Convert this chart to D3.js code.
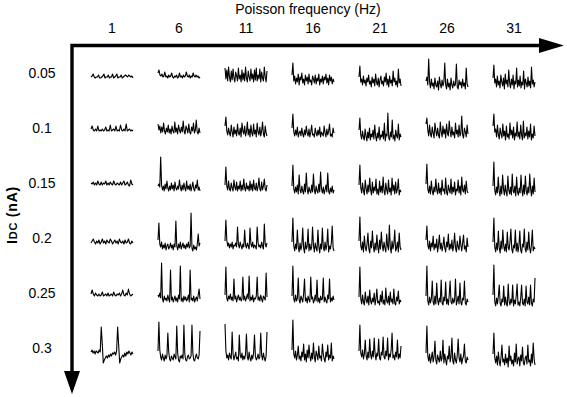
<!DOCTYPE html>
<html>
<head>
<meta charset="utf-8">
<script src="https://cdn.jsdelivr.net/npm/d3@7"></script>
<style>
  body { margin: 0; background: #fff; }
  svg { display: block; font-family: "Liberation Sans", Arial, Helvetica, sans-serif; }
</style>
</head>
<body>
<svg width="567" height="397"></svg>
<script>
const frequencies = [1, 6, 11, 16, 21, 26, 31];
const currents = ["0.05", "0.1", "0.15", "0.2", "0.25", "0.3"];

// voltage samples (px-ish units, up = depolarised),
// one array per DC current, one trace per Poisson frequency
const trace005 = [
  [-4,-3,-1,-4,-5,-4,-4,-2,-5,-5,-4,-3,-1,-5,-4,-4,-2,-5,-4,-4,-1,-5,-4,-3,-1,-5,-4,-4,-2,-5,-4,-3,-2,-3,-4,-2,-3,-4,-3,-5],
  [0,3,-2,-3,-1,-4,-3,1,-4,-3,-5,-2,-4,-3,0,-4,-5,-3,-4,-2,-5,-4,0,-4,-3,-5,-2,-4,-3,1,-3,-4,-2,-5,-3,-4,0,-3,-4,-2,-4,-3,-5,-4],
  [5,-6,3,-8,6,-4,-9,2,-7,4,-5,-9,1,-3,-8,5,-6,-2,-9,3,-7,0,-8,6,-5,-9,2,-4,-8,4,-6,-1,-9,3,-7,5,-8,-2,-6,4,-9,1,-5,-8,6,-4,-9,2],
  [-2,10,-8,-3,-11,-5,-9,-1,-12,-4,-7,0,-10,-6,-12,-2,-8,-4,-11,-1,-9,-7,-12,-3,-6,-10,-2,-11,-5,-8,-1,-12,-6,-9,-3,-11,-4,-7,-1,-10,-5,-12,-2,-8,-4,-11,-6,-9],
  [-4,7,-9,-6,-12,-3,-10,-7,-13,-5,-9,-2,-11,-8,-14,-4,-10,-6,-13,-1,-9,-12,-5,-14,-7,-3,-11,-8,-13,-4,-9,0,-12,-6,-14,-3,-10,-7,-13,2,-9,-5,-12,-8,-14,4,-10,-6,-13],
  [-8,-4,-12,14,-9,-15,-6,-13,-10,-16,-5,-12,-14,-8,-17,-4,-11,-15,-7,-13,-9,10,-12,-16,-6,-14,-10,-17,-5,-12,-15,-8,-13,-11,9,-14,-16,-7,-12,-9,-15,-6,-13,-10,-16,5,-11,-14],
  [-5,8,-10,-6,-14,-3,-12,-8,-15,-2,-9,-13,-5,-16,-1,-11,-7,-14,3,-10,-15,-6,-12,-2,-16,-8,-11,5,-14,-7,-13,-3,-15,-9,-12,2,-16,-6,-10,-14,-4,-13,-8,-15,6,-11,-7,-14,-9]
];
const trace010 = [
  [-1,2,-2,-3,-1,-3,2,-3,-2,-3,-1,-3,-2,1,-3,-2,-3,3,-3,-2,-1,-3,2,-3,-2,-3,3,-2,-3,-1,-3,4,-3,-2,-1,-3,-2,-3],
  [4,-2,2,-5,1,-4,5,-3,-6,0,-4,3,-5,-1,-6,2,-3,-5,6,-4,0,-6,3,-2,-5,1,-4,7,-3,-6,2,-1,-5,4,-4,-6,1,-3,5,-5,-2,8,-4,-6,0,-5],
  [2,11,-3,-7,0,-5,-8,3,-4,-9,1,-6,-2,-8,4,-5,-7,0,-9,5,-3,-6,2,-8,-4,6,-7,-1,-9,3,-5,-8,4,-6,-2,-9,5,-4,-7,1,-8,-3,6,-6,-9,2,-5,-8],
  [0,14,-4,-8,-2,-7,1,-9,-5,-3,-8,0,-6,-9,-2,-7,2,-5,-8,-1,-9,-4,3,-7,-6,-9,0,-5,-8,-2,-7,1,-9,-4,-6,-8,2,-5,-9,-1,-7,-3,4,-8,-6,-9,0,-5],
  [-2,10,-7,-11,-3,-9,-12,-1,-8,-13,-4,-10,0,-12,-6,-9,-2,-11,3,-8,-13,-5,-10,1,-12,-7,-9,-3,-11,5,-13,-6,-8,15,-10,-12,-4,-9,8,-11,-7,-13,-2,-8,-10,4,-12,-6,-9],
  [4,10,-2,-8,3,-6,-9,1,-5,-10,5,-3,-8,0,-7,-10,6,-4,-9,2,-6,-1,-10,4,-5,-8,7,-3,-9,1,-7,-4,-10,5,-6,-2,-9,3,-8,-5,12,-7,-10,0,-4,-9,3,-6],
  [2,14,-4,-1,-9,3,-7,-11,0,-6,-10,4,-8,-3,-12,2,-9,-6,-11,5,-7,-2,-10,1,-12,-5,-8,6,-9,-4,-11,3,-7,-12,7,-10,-5,-8,1,-11,-3,-9,4,-12,-6,-10,2,-8]
];
const trace015 = [
  [0,-1,1,-2,0,-2,2,-1,-2,1,-2,0,-1,2,-2,0,-2,1,-1,-2,2,-1,-2,0,-1,-2,1,-2,0,2,-2,-1,1,-2,-3,3,-1,-2],
  [-3,-1,-4,26,-2,-7,-3,-8,-1,-6,2,-5,-8,-3,-7,0,-6,-2,-8,1,-5,-7,-3,-6,3,-4,-8,-2,-7,0,-5,-8,2,-6,-3,-7,-1,-8,-4,1,-6,-8,-2,-5,3,-7,-4,-8],
  [-2,16,-3,-7,2,-6,-8,0,-5,-8,3,-4,-7,1,-8,-3,-6,2,-8,-2,-7,4,-5,-8,0,-6,-3,-8,2,-7,-1,-8,3,-5,-7,0,-8,-4,5,-6,-8,1,-7,-3,4,-6,-8,-2],
  [-3,18,-6,-10,-4,-9,-2,-11,8,-7,-10,-3,-8,-11,-1,-9,10,-6,-11,-4,-8,-10,-2,-9,9,-7,-11,-3,-8,-10,-1,-9,11,-6,-10,-4,-11,-7,-2,-9,10,-8,-11,-5,-9,-3,-10,-7],
  [-2,18,-5,-10,0,-8,-12,3,-6,-11,-2,-9,5,-7,-12,1,-10,-4,-8,4,-11,-6,-12,2,-9,-3,-10,6,-8,-12,0,-7,-11,3,-9,-5,-12,5,-8,-2,-11,1,-10,-6,4,-12,-7,-9],
  [-1,19,-6,-10,-3,-11,2,-8,-12,-4,-9,4,-7,-11,0,-10,-5,-12,3,-8,-6,-11,5,-9,-12,-2,-7,-10,4,-11,-4,-9,1,-12,-6,-8,3,-10,-3,-12,6,-7,-9,-2,-11,2,-8,-10],
  [-3,21,-7,-12,-4,-10,6,-8,-13,-3,-11,8,-6,-12,-2,-9,-13,7,-7,-11,-4,-12,9,-8,-10,-3,-13,6,-9,-12,-5,-10,8,-7,-13,-2,-11,7,-8,-12,-4,-10,9,-6,-13,-3,-11,5,-9]
];
const trace020 = [
  [-5,-3,-1,-4,-6,-3,-5,-2,-6,-4,-1,-5,-3,-6,-2,-4,-5,-1,-3,-6,-4,-2,-5,-3,-6,-1,-4,-5,-3,-6,-2,-5,-4,-1,-5,-6,-3,-5],
  [-2,15,-6,-9,-4,-11,-7,-10,-5,-12,-8,-6,-11,-9,-5,-10,-7,-12,-6,-9,17,-8,-12,-6,-10,-4,-11,-8,-5,-10,-7,-11,-6,-9,-4,-10,-8,25,-10,-13,-7,-11,-9,-12,-6,4,-8,-5],
  [-3,18,-2,-8,-5,-10,-6,-9,-4,-11,-7,-8,-5,-9,11,-6,-10,-4,-8,-11,-6,-9,8,-7,-10,-5,-8,-11,10,-6,-9,-4,-10,-7,-8,-11,11,-5,-9,-7,-10,-4,-8,-11,14,-6,-9,-5],
  [-4,20,-8,-13,-6,-11,8,-9,-14,-5,-12,-7,10,-10,-15,-4,-11,-8,9,-13,-6,-12,-9,11,-7,-14,-5,-10,-13,8,-8,-15,-6,-11,10,-9,-13,-4,-12,-7,9,-14,-8,-11,-5,12,-10,-13],
  [-3,21,-8,-12,-4,-14,2,-9,-13,-6,5,-11,-15,-3,-10,7,-8,-14,-5,-12,3,-9,-15,-2,-11,6,-7,-13,-4,-10,-14,4,-8,-12,13,-9,-15,-3,-11,-6,8,-13,-10,-4,-14,5,-9,-12],
  [-2,12,-7,-11,-3,-13,-5,-9,2,-12,-6,-10,-1,-14,-7,3,-11,-5,-13,-8,1,-10,-14,-4,-9,4,-12,-6,-11,-2,-13,-8,5,-10,-14,-3,-9,-12,2,-7,-13,-5,3,-11,-8,-14,0,-9],
  [-4,20,-9,-14,-5,-12,7,-10,-15,-3,-11,8,-8,-13,-6,-14,6,-9,-12,-4,9,-11,-15,-7,-10,8,-13,-5,-14,-8,7,-12,-15,-6,-9,9,-11,-14,-4,-12,6,-10,-15,-7,8,-13,-9,-11]
];
const trace025 = [
  [-1,3,-1,-3,0,-2,-3,-1,-3,-2,1,-3,-2,-1,-3,0,-3,-2,-1,-3,1,-2,-3,-1,-2,0,-3,-1,3,-2,-3,0,-2,4,-1,-3,-2,-1],
  [-2,-4,0,-5,30,-6,-9,-3,-7,-5,-8,-2,-6,-9,23,-7,-4,-9,-6,-3,-8,-5,-9,-2,-6,27,-8,-5,-9,-3,-7,-4,-8,-6,-2,-9,23,-7,-5,-8,-3,-9,-6,-4,-8,-2,4,-6],
  [-2,26,-5,-8,-3,-6,-1,-7,-4,-8,14,-6,-3,-9,-5,-2,-7,-4,-8,-6,16,-7,-3,-8,-5,-1,-6,17,-8,-4,-7,-2,-9,-5,-6,-3,16,-7,-4,-8,-2,-6,-9,-3,-5,-7,20,-4],
  [-3,27,-6,-9,-2,-8,-5,15,-7,-10,-3,-6,-9,-1,14,-8,-5,-10,-3,-7,-9,16,-6,-4,-10,-7,-2,-8,13,-9,-5,-10,-3,-7,-6,15,-9,-4,-8,-10,-2,-6,14,-9,-5,-8,-3,-7],
  [-4,26,-6,-11,-2,-9,-12,1,-7,-10,-3,-12,3,-8,-11,-5,-9,0,-12,-6,4,-10,-8,-12,-2,-9,2,-11,-7,-12,5,-8,-10,-3,-12,1,-9,-6,-11,4,-10,-12,-4,-8,2,-11,-7,-9],
  [-3,27,-8,-12,-4,-10,-6,12,-9,-12,-3,-11,10,-7,-12,-5,-9,13,-10,-12,-4,-8,11,-11,-6,-12,-2,12,-9,-11,-5,-10,-7,14,-12,-8,-3,-11,10,-9,-12,-5,-7,12,-10,-12,-6,-9],
  [-2,28,-9,-13,-5,-11,-3,8,-10,-13,-6,-9,7,-12,-4,-11,-13,9,-8,-12,-6,-10,8,-13,-7,-11,-3,9,-12,-9,-13,-5,8,-10,-12,-6,-13,7,-9,-11,-4,-12,8,-10,-13,-6,-9,15]
];
const trace030 = [
  [-4,-2,-5,-3,-6,-3,-4,-5,-2,-4,21,4,-15,-12,-10,-8,-10,-7,-9,-6,-8,-5,-6,-4,-7,-3,21,3,-15,-11,-9,-7,-9,-5,-8,-4,-6,-3,-5,-7,-4,-6],
  [-3,26,-2,-9,-12,-6,-10,-13,-7,-11,-8,15,-4,-11,-13,-8,-10,-12,-6,-9,-11,22,-5,-12,-14,-8,-10,-7,-11,23,-6,-12,-13,-9,-7,-11,-10,-8,23,-5,-12,-13,-9,-6,-10,-11,-7,17],
  [24,-3,-10,-7,-12,-5,-9,-11,16,-6,-12,-8,-4,-11,-9,-13,13,-7,-10,-5,-12,-8,-11,-6,14,-9,-12,-4,-10,-13,-7,-11,-5,13,-8,-12,-10,-6,-11,-9,15,-7,-12,-5,-10,-13,-8,16],
  [-2,28,-6,-10,-3,-12,-7,2,-11,-8,-13,-4,-9,4,-12,-6,-14,-2,-10,3,-8,-13,-5,-11,5,-9,-14,-3,-7,-12,2,-10,-8,-13,4,-6,-11,-14,-4,-9,3,-12,-7,-10,5,-13,-8,-11],
  [-3,23,-5,-9,-2,-11,-6,8,-8,-12,-4,-10,9,-7,-11,-3,-9,10,-6,-12,-5,-8,9,-10,-12,-4,-7,11,-9,-11,-3,-8,10,-12,-6,-9,-2,15,-10,-7,-12,-4,-9,8,-11,-6,-10,2],
  [-5,22,-8,-13,-6,-15,-10,-4,-14,-9,7,-12,-16,-7,-11,-14,-3,-13,-10,8,-15,-6,-12,-17,-8,-11,2,-14,-9,10,-13,-16,-5,-12,-15,-7,9,-10,-14,-6,-16,-11,-8,4,-13,-15,-9,-12],
  [-6,15,-10,-15,-8,-17,-4,-13,-18,-9,3,-14,-11,-17,-6,-15,-10,-19,2,-13,-8,-16,-12,-18,-5,-14,4,-16,-11,-9,-18,-7,-13,1,-15,-17,-10,-8,-16,3,-14,-12,-18,-6,-15,5,-11,-17]
];
const traces = [trace005, trace010, trace015, trace020, trace025, trace030];

const svg = d3.select("svg");

const x = d3.scalePoint().domain(frequencies).range([112, 514]);
const y = d3.scalePoint().domain(currents).range([73, 348]);
const volt = d3.scaleLinear().domain([-20, 30]).range([20, -30]);
const traceWidth = 42;

const axisX = 72, axisY = 45.5;

// axis arrows
svg.append("path")
    .attr("d", `M${axisX},374V${axisY}H542`)
    .attr("fill", "none")
    .attr("stroke", "#000")
    .attr("stroke-width", 3.4)
    .attr("stroke-linejoin", "miter")
    .attr("stroke-linecap", "butt");
svg.append("path")
    .attr("d", `M539,${axisY - 7.5}L564,${axisY}L539,${axisY + 7.5}Z`)
    .attr("fill", "#000");
svg.append("path")
    .attr("d", `M${axisX - 8},371L${axisX},394L${axisX + 8},371Z`)
    .attr("fill", "#000");

svg.append("text")
    .attr("x", 308)
    .attr("y", 14)
    .attr("text-anchor", "middle")
    .style("font-size", "14px")
    .text("Poisson frequency (Hz)");

svg.append("g")
    .attr("text-anchor", "middle")
    .style("font-size", "14px")
  .selectAll("text")
  .data(frequencies)
  .enter().append("text")
    .attr("x", d => x(d))
    .attr("y", 33)
    .text(d => d);

svg.append("g")
    .attr("text-anchor", "middle")
    .style("font-size", "14px")
  .selectAll("text")
  .data(currents)
  .enter().append("text")
    .attr("x", 42)
    .attr("y", d => y(d) + 5)
    .text(d => d);

const ylab = svg.append("text")
    .attr("transform", "translate(17,215) rotate(-90)")
    .attr("text-anchor", "middle")
    .style("font-size", "14px")
    .style("font-weight", "bold")
    .style("letter-spacing", "0.8px");
ylab.append("tspan").text("I");
ylab.append("tspan").style("font-size", "11px").text("DC");
ylab.append("tspan").text(" (nA)");

// one small voltage trace per cell
const line = d3.line();
const cells = [];
currents.forEach((c, i) => {
  frequencies.forEach((f, j) => cells.push({ current: c, freq: f, values: traces[i][j] }));
});

svg.append("g")
    .attr("fill", "none")
    .attr("stroke", "#000")
    .attr("stroke-width", 1.1)
    .attr("stroke-linejoin", "round")
  .selectAll("path")
  .data(cells)
  .enter().append("path")
    .attr("d", d => {
      const t = d3.scaleLinear()
          .domain([0, d.values.length - 1])
          .range([x(d.freq) - traceWidth / 2, x(d.freq) + traceWidth / 2]);
      return line(d.values.map((v, k) => [t(k), y(d.current) + volt(v)]));
    });
</script>
</body>
</html>
